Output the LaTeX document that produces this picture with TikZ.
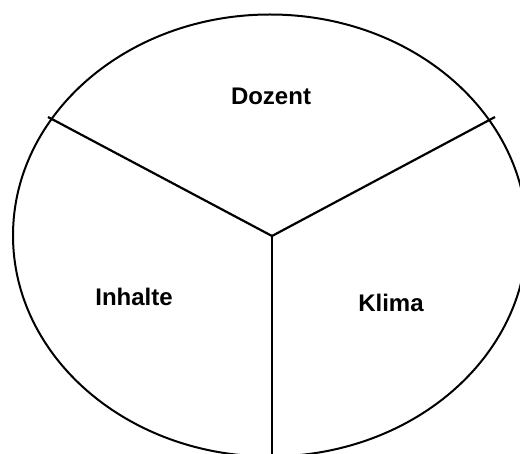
\documentclass[tikz,border=0pt]{standalone}
\usepackage{fontspec}
\setmainfont{Liberation Sans}
\begin{document}
\begin{tikzpicture}[x=1pt,y=-1pt,
  rim/.style={line width=2pt},
  divider/.style={line width=2.2pt},
  label/.style={font=\fontsize{24}{28}\selectfont\bfseries, inner sep=0pt}]
\useasboundingbox (0,0) rectangle (520,454);
\clip (0,0) rectangle (520,454);
\fill[white] (0,0) rectangle (520,454);
\draw[rim] (270,235.5) ellipse [x radius=257, y radius=221];
\coordinate (c) at (272,236);
\coordinate (l) at (48,117);
\coordinate (r) at (495,117);
\coordinate (b) at (272,460);
\draw[divider] (c) -- (l);
\draw[divider] (c) -- (r);
\draw[divider] (c) -- (b);
\node[label] (dozent) at (271,96) {Dozent};
\node[label] (inhalte) at (134,297) {Inhalte};
\node[label] (klima) at (391,303) {Klima};
\end{tikzpicture}
\end{document}
